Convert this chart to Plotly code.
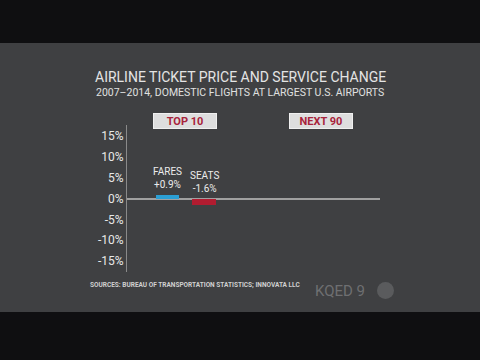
import plotly.graph_objects as go

# ---- data ----
categories = ["FARES", "SEATS"]
values = [0.9, -1.6]
value_labels = ["+0.9%", "-1.6%"]
bar_colors = ["#2b9fd4", "#b11c30"]
group_labels = ["TOP 10", "NEXT 90"]
tick_values = [-15, -10, -5, 0, 5, 10, 15]
tick_labels = ["-15%", "-10%", "-5%", "0%", "5%", "10%", "15%"]

title = "AIRLINE TICKET PRICE AND SERVICE CHANGE"
subtitle = "2007–2014, DOMESTIC FLIGHTS AT LARGEST U.S. AIRPORTS"
source = "SOURCES: BUREAU OF TRANSPORTATION STATISTICS; INNOVATA LLC"

W, H = 480, 360
FONT = "Roboto"

def px(x):
    return x / W

def py(y):
    return 1 - y / H

fig = go.Figure()
fig.add_trace(go.Bar(
    x=categories, y=values, marker=dict(color=bar_colors, line=dict(width=0)),
    width=0.64, showlegend=False, hoverinfo="skip",
))

annotations = []
# labels above bars
for c, v, lab in zip(categories, values, value_labels):
    annotations.append(dict(
        x=c, y=max(v, 0), xref="x", yref="y", text=f"{c}<br>{lab}",
        showarrow=False, yanchor="bottom", yshift=3,
        font=dict(family=FONT, size=10, color="#ececec"), align="center",
    ))

# group boxes
for lab, cx in zip(group_labels, [185, 320.5]):
    annotations.append(dict(
        x=px(cx), y=py(121), xref="paper", yref="paper", text=f"<b>{lab}</b>",
        showarrow=False, xanchor="center", yanchor="middle",
        bgcolor="#dedede", bordercolor="#f0f0f0", borderwidth=1, borderpad=0,
        width=62, height=14,
        font=dict(family=FONT, size=11, color="#a8233b"),
    ))

# titles
annotations.append(dict(
    x=0.5, y=py(77), xref="paper", yref="paper", text=title, showarrow=False,
    xanchor="center", yanchor="middle",
    font=dict(family=FONT, size=14, color="#e4e4e4"),
))
annotations.append(dict(
    x=0.5, y=py(92), xref="paper", yref="paper", text=subtitle, showarrow=False,
    xanchor="center", yanchor="middle",
    font=dict(family=FONT, size=10.5, color="#e0e0e0"),
))
annotations.append(dict(
    x=px(88), y=py(285), xref="paper", yref="paper", text=f"<b>{source}</b>",
    showarrow=False, xanchor="left", yanchor="middle",
    font=dict(family=FONT, size=6.5, color="#d0d0d0"),
))
annotations.append(dict(
    x=px(313), y=py(291), xref="paper", yref="paper", text="KQED 9",
    showarrow=False, xanchor="left", yanchor="middle",
    font=dict(family=FONT, size=15, color="#6e6f71"),
))

shapes = [
    dict(type="rect", xref="paper", yref="paper", x0=0, x1=1, y0=py(312), y1=py(43),
         fillcolor="#3f4042", line=dict(width=0), layer="below"),
    dict(type="circle", xref="paper", yref="paper", x0=px(377), x1=px(394),
         y0=py(299), y1=py(282), fillcolor="#5a5b5d", line=dict(width=0), layer="below"),
]

fig.update_layout(
    width=W, height=H, margin=dict(l=0, r=0, t=0, b=0),
    paper_bgcolor="#0f0f11", plot_bgcolor="rgba(0,0,0,0)",
    annotations=annotations, shapes=shapes, bargap=0,
    xaxis=dict(domain=[px(127), px(380)], range=[-1.11, 5.82], showticklabels=False,
               showgrid=False, zeroline=False, showline=False, fixedrange=True,
               categoryorder="array", categoryarray=categories),
    yaxis=dict(domain=[py(272), py(125)], range=[-17.6, 17.6], tickmode="array",
               tickvals=tick_values, ticktext=tick_labels,
               showgrid=False, zeroline=True, zerolinecolor="#a0a0a0",
               zerolinewidth=1.5, showline=True, linecolor="#8a8a8a", linewidth=1,
               ticks="", tickfont=dict(family=FONT, size=12, color="#e8e8e8")),
)

fig.write_html("out.html")
